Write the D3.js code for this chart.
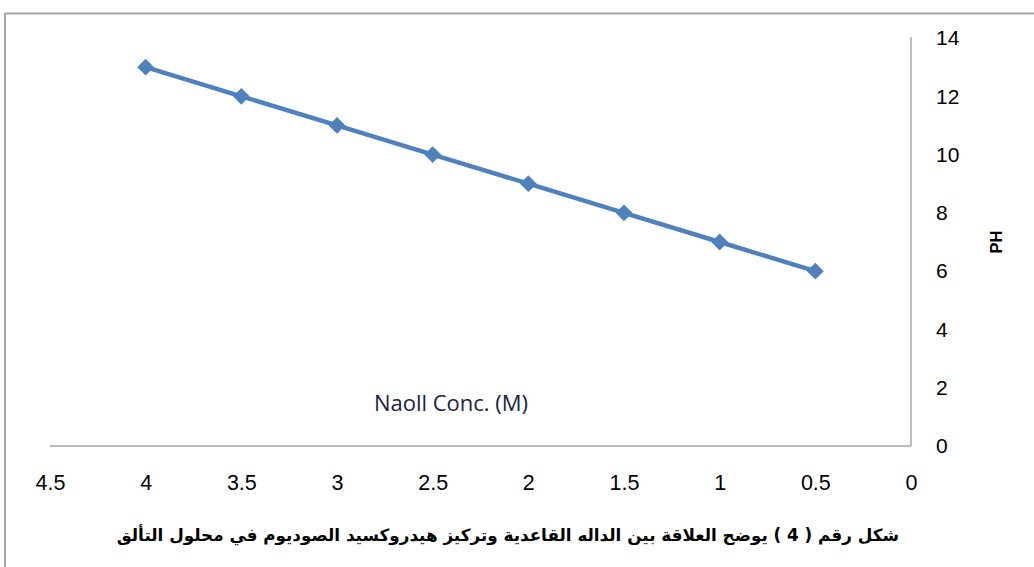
<!DOCTYPE html>
<html>
<head>
<meta charset="utf-8">
<script src="https://cdn.jsdelivr.net/npm/d3@7"></script>
<style>
  html, body { margin: 0; padding: 0; background: #fff; }
  svg { display: block; }
</style>
</head>
<body>
<svg id="chart" width="1034" height="567"></svg>
<script>
// NaOH concentration (M) and the measured pH at each concentration
const concentrations = [4, 3.5, 3, 2.5, 2, 1.5, 1, 0.5];
const phValues = [13, 12, 11, 10, 9, 8, 7, 6];
const xTicks = [4.5, 4, 3.5, 3, 2.5, 2, 1.5, 1, 0.5, 0];
const yTicks = [0, 2, 4, 6, 8, 10, 12, 14];
const xTitle = "Naoll Conc. (M)";
const yTitle = "PH";
const caption = "شكل رقم ( 4 ) يوضح العلاقة بين الداله القاعدية وتركيز هيدروكسيد الصوديوم في محلول التألق";

const svg = d3.select("#chart");
const plot = { left: 50, right: 911, top: 38, bottom: 446 };

// Outer frame (top and left edges)
svg.append("path")
  .attr("d", "M5,567 V13.5 H1034")
  .attr("fill", "none")
  .attr("stroke", "#a6a6a6")
  .attr("stroke-width", 2);

// Reversed x axis: 4.5 on the left, 0 on the right
const x = d3.scaleLinear().domain([4.5, 0]).range([plot.left, plot.right]);
const y = d3.scaleLinear().domain([0, 14]).range([plot.bottom, plot.top]);

// Axis lines
svg.append("line")
  .attr("x1", plot.left).attr("x2", plot.right)
  .attr("y1", plot.bottom).attr("y2", plot.bottom)
  .attr("stroke", "#a6a6a6").attr("stroke-width", 1.5);
svg.append("line")
  .attr("x1", plot.right).attr("x2", plot.right)
  .attr("y1", plot.top - 1).attr("y2", plot.bottom)
  .attr("stroke", "#a6a6a6").attr("stroke-width", 1.5);

// X tick labels
const xAxis = d3.axisBottom(x).tickValues(xTicks).tickSize(0).tickPadding(0).tickFormat(d3.format(""));
const gx = svg.append("g").attr("transform", `translate(0,${plot.bottom + 30})`).call(xAxis);
gx.select(".domain").remove();
gx.selectAll("text")
  .attr("font-family", "Liberation Sans, Arial, sans-serif")
  .attr("font-size", 21.5)
  .attr("fill", "#000")
  .attr("dy", "0.35em")
  .attr("y", 6);

// Y tick labels on the right side
const yAxis = d3.axisRight(y).tickValues(yTicks).tickSize(0).tickPadding(0);
const gy = svg.append("g").attr("transform", `translate(${plot.right + 25},0)`).call(yAxis);
gy.select(".domain").remove();
gy.selectAll("text")
  .attr("font-family", "Liberation Sans, Arial, sans-serif")
  .attr("font-size", 21)
  .attr("fill", "#000")
  .attr("text-anchor", "start");

// Series line
const pts = concentrations.map((c, i) => [c, phValues[i]]);
svg.append("path")
  .datum(pts)
  .attr("fill", "none")
  .attr("stroke", "#4f81bd")
  .attr("stroke-width", 4.5)
  .attr("stroke-linejoin", "round")
  .attr("d", d3.line().x(d => x(d[0])).y(d => y(d[1])));

// Diamond markers
svg.append("g").selectAll("path")
  .data(pts)
  .join("path")
  .attr("transform", d => `translate(${x(d[0])},${y(d[1])})`)
  .attr("d", d3.symbol().type(d3.symbolDiamond2).size(180))
  .attr("fill", "#4f81bd");

// Axis titles
svg.append("text")
  .attr("x", 451).attr("y", 405)
  .attr("text-anchor", "middle")
  .attr("dominant-baseline", "middle")
  .attr("font-family", "Open Sans, Liberation Sans, sans-serif")
  .attr("font-size", 22)
  .attr("fill", "#17243a")
  .text(xTitle);

svg.append("text")
  .attr("transform", "translate(998,242) rotate(-90)")
  .attr("text-anchor", "middle")
  .attr("dominant-baseline", "middle")
  .attr("font-family", "Liberation Sans, Arial, sans-serif")
  .attr("font-weight", "bold")
  .attr("font-size", 16.5)
  .attr("fill", "#000")
  .text(yTitle);

// Caption below the chart
svg.append("text")
  .attr("x", 899).attr("y", 541)
  .attr("direction", "rtl")
  .attr("text-anchor", "start")
  .attr("font-family", "DejaVu Sans, sans-serif")
  .attr("font-weight", "bold")
  .attr("font-size", 16.8)
  .attr("fill", "#000")
  .text(caption);
</script>
</body>
</html>
